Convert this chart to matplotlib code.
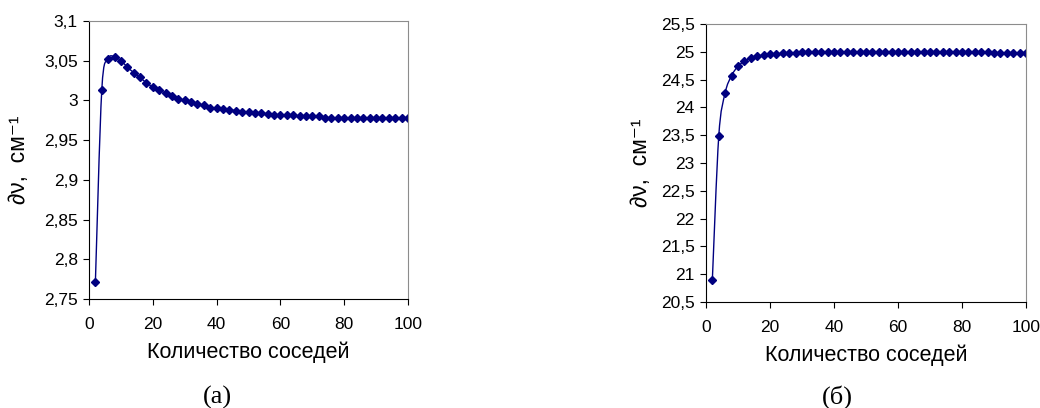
import numpy as np
import matplotlib
matplotlib.use("Agg")
from matplotlib import pyplot as plt
from matplotlib.path import Path
from matplotlib.patches import PathPatch
from matplotlib.ticker import FuncFormatter, MultipleLocator

plt.rcParams['font.family'] = ['Liberation Sans', 'DejaVu Sans']

neighbours = list(range(2, 101, 2))

dv_a = [2.772, 3.013, 3.052, 3.055, 3.050, 3.042, 3.035, 3.029, 3.022, 3.017,
        3.013, 3.009, 3.005, 3.002, 3.000, 2.998, 2.995, 2.994, 2.991, 2.990,
        2.989, 2.988, 2.987, 2.985, 2.985, 2.984, 2.984, 2.983, 2.982, 2.981,
        2.981, 2.981, 2.980, 2.980, 2.980, 2.980, 2.978, 2.978, 2.978, 2.978,
        2.978, 2.978, 2.978, 2.978, 2.978, 2.978, 2.978, 2.978, 2.978, 2.978]

dv_b = [20.90, 23.48, 24.26, 24.57, 24.74, 24.83, 24.89, 24.92, 24.94, 24.96,
        24.96, 24.97, 24.98, 24.98, 24.99, 24.99, 24.99, 24.99, 24.99, 24.99,
        24.99, 24.99, 24.99, 24.99, 24.99, 24.99, 24.99, 24.99, 24.99, 24.99,
        24.99, 24.99, 24.99, 24.99, 24.99, 24.99, 24.99, 24.99, 24.99, 24.99,
        24.99, 24.99, 24.99, 24.99, 24.98, 24.98, 24.98, 24.98, 24.98, 24.98]

line_col = "#000080"


def smooth_path(x, y):
    # Catmull-Rom style bezier segments, like a spreadsheet "smoothed line"
    p = np.column_stack([x, y]).astype(float)
    verts = [p[0]]
    codes = [Path.MOVETO]
    n = len(p)
    for i in range(n - 1):
        p0 = p[i - 1] if i > 0 else p[i]
        p3 = p[i + 2] if i + 2 < n else p[i + 1]
        c1 = p[i] + (p[i + 1] - p0) / 6.0
        c2 = p[i + 1] - (p3 - p[i]) / 6.0
        verts += [c1, c2, p[i + 1]]
        codes += [Path.CURVE4] * 3
    return Path(verts, codes)


def comma(v, pos):
    return ("%g" % round(v, 3)).replace(".", ",")


def draw(ax, y, ylo, yhi, ystep, ylab_x):
    ax.add_patch(PathPatch(smooth_path(neighbours, y), fill=False,
                           edgecolor=line_col, lw=1.0))
    ax.plot(neighbours, y, linestyle="none", marker="D", markersize=4.4,
            color=line_col)
    ax.set_xlim(0, 100)
    ax.set_ylim(ylo, yhi)
    ax.xaxis.set_major_locator(MultipleLocator(20))
    ax.yaxis.set_major_locator(MultipleLocator(ystep))
    ax.yaxis.set_major_formatter(FuncFormatter(comma))
    ax.tick_params(direction="out", length=4, width=0.8, labelsize=12.5)
    ax.tick_params(axis="x", pad=9)
    ax.tick_params(axis="y", pad=4)
    for s in ("top", "right"):
        ax.spines[s].set_color("#8c8c8c")
    for s in ("left", "bottom"):
        ax.spines[s].set_color("black")
    ax.set_xlabel("Количество соседей", fontsize=15.5, labelpad=7)
    ax.set_ylabel("∂ν,  см⁻¹", fontsize=16.5)
    ax.yaxis.set_label_coords(ylab_x, 0.5)


fig = plt.figure(figsize=(10.4, 4.08), dpi=100)
ax1 = fig.add_axes([0.0856, 0.2672, 0.3067, 0.6814])
ax2 = fig.add_axes([0.6788, 0.2598, 0.3077, 0.6814])

draw(ax1, dv_a, 2.75, 3.1, 0.05, -0.185)
draw(ax2, dv_b, 20.5, 25.5, 0.5, -0.17)

fig.text(217 / 1040, 1 - 397 / 408, "(а)", ha="center", va="center",
         fontsize=19, family="Liberation Serif")
fig.text(837 / 1040, 1 - 397 / 408, "(б)", ha="center", va="center",
         fontsize=19, family="Liberation Serif")

plt.savefig("out.png", dpi=100)
